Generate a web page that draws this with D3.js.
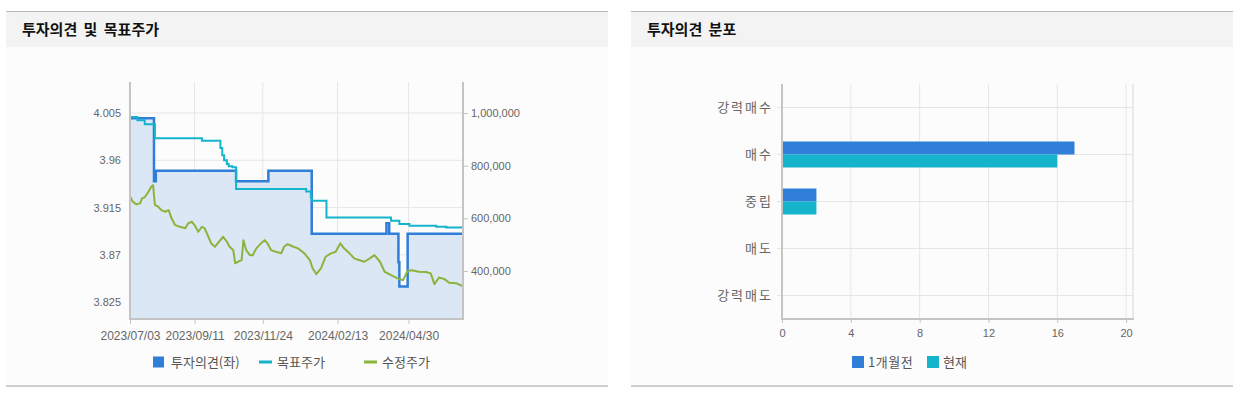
<!DOCTYPE html>
<html>
<head>
<meta charset="utf-8">
<script src="https://cdn.jsdelivr.net/npm/d3@7"></script>
<style>
  body { margin: 0; background: #fff; }
  svg text { font-family: "Liberation Sans", Arial, sans-serif; fill: #666; }
  svg text.kr { font-family: "Noto Sans CJK KR", sans-serif; }
</style>
</head>
<body>
<svg id="page" width="1237" height="395"></svg>
<script>
//opinion score (left axis), step changes
var opinionDates = ["2023-07-03", "2023-07-29", "2023-07-31", "2023-10-26", "2023-11-30", "2024-01-16",
                    "2024-04-06", "2024-04-09", "2024-04-19", "2024-04-20", "2024-04-29", "2024-06-28"];
var opinionValues = [4.00, 3.94, 3.95, 3.94, 3.95, 3.89, 3.90, 3.89, 3.863, 3.84, 3.89, 3.89];

//target price (right axis)
var targetDates = ["2023-07-03", "2023-07-11", "2023-07-19", "2023-07-30", "2023-09-19", "2023-10-09",
                   "2023-10-11", "2023-10-13", "2023-10-16", "2023-10-18", "2023-10-22", "2023-10-26",
                   "2024-01-10", "2024-01-15", "2024-01-16", "2024-02-01", "2024-04-11", "2024-04-20",
                   "2024-05-01", "2024-05-30", "2024-06-10", "2024-06-28"];
var targetValues = [985000, 973000, 957000, 904000, 895000, 867000, 840000, 821000, 806000, 798000, 794000, 711000,
                    702000, 680000, 667000, 603000, 591000, 578000, 572000, 568000, 565000, 563000];

//adjusted price (right axis)
var priceDates = ["2023-07-03", "2023-07-06", "2023-07-10", "2023-07-14", "2023-07-16", "2023-07-19", "2023-07-23",
                  "2023-07-26", "2023-07-28", "2023-07-30", "2023-08-02", "2023-08-06", "2023-08-10", "2023-08-14",
                  "2023-08-17", "2023-08-21", "2023-08-26", "2023-09-01", "2023-09-04", "2023-09-08", "2023-09-11",
                  "2023-09-15", "2023-09-19", "2023-09-22", "2023-09-26", "2023-09-29", "2023-10-03", "2023-10-06",
                  "2023-10-12", "2023-10-16", "2023-10-19", "2023-10-23", "2023-10-25", "2023-10-28", "2023-11-01",
                  "2023-11-03", "2023-11-06", "2023-11-10", "2023-11-13", "2023-11-17", "2023-11-22", "2023-11-26",
                  "2023-11-29", "2023-12-03", "2023-12-08", "2023-12-14", "2023-12-17", "2023-12-21", "2023-12-26",
                  "2024-01-01", "2024-01-08", "2024-01-14", "2024-01-17", "2024-01-21", "2024-01-26", "2024-01-31",
                  "2024-02-06", "2024-02-11", "2024-02-16", "2024-02-20", "2024-02-26", "2024-03-02", "2024-03-08",
                  "2024-03-13", "2024-03-19", "2024-03-24", "2024-03-30", "2024-04-04", "2024-04-11", "2024-04-18",
                  "2024-04-24", "2024-04-29", "2024-05-04", "2024-05-11", "2024-05-19", "2024-05-24", "2024-05-28",
                  "2024-06-02", "2024-06-08", "2024-06-13", "2024-06-21", "2024-06-28"];
var priceValues = [684000, 663000, 653000, 657000, 676000, 680000, 701000, 720000, 726000, 650000, 646000, 631000,
                   625000, 631000, 600000, 574000, 568000, 562000, 581000, 587000, 574000, 549000, 568000, 562000,
                   530000, 505000, 492000, 505000, 530000, 511000, 492000, 479000, 429000, 435000, 441000, 517000,
                   479000, 460000, 460000, 486000, 505000, 517000, 505000, 479000, 473000, 467000, 492000, 502000,
                   494000, 486000, 467000, 441000, 410000, 388000, 410000, 454000, 467000, 473000, 505000, 486000,
                   467000, 448000, 441000, 435000, 448000, 460000, 435000, 397000, 384000, 372000, 365000, 401000,
                   403000, 397000, 396000, 391000, 350000, 375000, 369000, 355000, 353000, 342000];

var dateTicks = ["2023-07-03", "2023-09-11", "2023-11-24", "2024-02-13", "2024-04-30"];
var leftTicks = [3.825, 3.87, 3.915, 3.96, 4.005];
var rightTicks = [400000, 600000, 800000, 1000000];

//opinion distribution
var categories = ["강력매수", "매수", "중립", "매도", "강력매도"];
var prevMonth = [0, 17, 2, 0, 0];
var current = [0, 16, 2, 0, 0];
var countTicks = [0, 4, 8, 12, 16, 20];

var blue = "#2f7ed8", teal = "#14b4cc", green = "#8ab43c";
var gridColor = "#e6e6e6", axisColor = "#c4c4c4";

var parseDate = d3.timeParse("%Y-%m-%d");
var svg = d3.select("#page");

function drawPanel(x, title) {
    var p = svg.append("g").attr("transform", "translate(" + x + ",0)");
    var w = 602;
    p.append("rect").attr("x", 0).attr("y", 11).attr("width", w).attr("height", 375).attr("fill", "#fcfcfc");
    p.append("rect").attr("x", 0).attr("y", 12).attr("width", w).attr("height", 35).attr("fill", "#f3f3f3");
    p.append("line").attr("x1", 0).attr("x2", w).attr("y1", 11.5).attr("y2", 11.5)
        .attr("stroke", "#b8b8b8").attr("stroke-width", 1);
    p.append("line").attr("x1", 0).attr("x2", w).attr("y1", 386).attr("y2", 386)
        .attr("stroke", "#cfcfcf").attr("stroke-width", 2);
    p.append("text").attr("class", "kr").attr("x", 16).attr("y", 35)
        .style("font-size", "15px").style("font-weight", "bold").style("fill", "#111")
        .style("word-spacing", "3px")
        .text(title);
}

function styleAxis(g) {
    g.select(".domain").remove();
    g.selectAll(".tick line").attr("stroke", axisColor);
}

function drawOpinionChart() {
    var margin = { top: 82, left: 130 };
    var width = 333, height = 237;
    var g = svg.append("g").attr("transform", "translate(" + margin.left + "," + margin.top + ")");

    var x = d3.scaleTime()
        .domain([parseDate("2023-07-03"), parseDate("2024-06-28")])
        .range([0, width]);
    var yLeft = d3.scaleLinear().domain([3.809, 4.0345]).range([height, 0]);
    var yRight = d3.scaleLinear().domain([217500, 1118000]).range([height, 0]);

    var opinion = opinionDates.map(function(d, i) { return { date: parseDate(d), value: opinionValues[i] }; });
    var target = targetDates.map(function(d, i) { return { date: parseDate(d), value: targetValues[i] }; });
    var price = priceDates.map(function(d, i) { return { date: parseDate(d), value: priceValues[i] }; });

    // grid
    g.append("g").selectAll("line").data(leftTicks).enter().append("line")
        .attr("x1", 0).attr("x2", width)
        .attr("y1", function(d) { return yLeft(d); }).attr("y2", function(d) { return yLeft(d); })
        .attr("stroke", gridColor);
    g.append("g").selectAll("line").data(dateTicks.slice(1)).enter().append("line")
        .attr("x1", function(d) { return x(parseDate(d)); }).attr("x2", function(d) { return x(parseDate(d)); })
        .attr("y1", 0).attr("y2", height)
        .attr("stroke", gridColor);

    var area = d3.area()
        .curve(d3.curveStepAfter)
        .x(function(d) { return x(d.date); })
        .y0(height)
        .y1(function(d) { return yLeft(d.value); });
    g.append("path").attr("d", area(opinion)).attr("fill", "#dce7f6");

    var opinionLine = d3.line().curve(d3.curveStepAfter)
        .x(function(d) { return x(d.date); })
        .y(function(d) { return yLeft(d.value); });
    var targetLine = d3.line().curve(d3.curveStepAfter)
        .x(function(d) { return x(d.date); })
        .y(function(d) { return yRight(d.value); });
    var priceLine = d3.line()
        .x(function(d) { return x(d.date); })
        .y(function(d) { return yRight(d.value); });

    g.append("path").attr("d", opinionLine(opinion)).attr("fill", "none")
        .attr("stroke", blue).attr("stroke-width", 2.5);
    g.append("path").attr("d", targetLine(target)).attr("fill", "none")
        .attr("stroke", teal).attr("stroke-width", 2);
    g.append("path").attr("d", priceLine(price)).attr("fill", "none")
        .attr("stroke", green).attr("stroke-width", 2).attr("stroke-linejoin", "round");

    // axes
    g.append("g")
        .call(d3.axisLeft(yLeft).tickValues(leftTicks).tickSize(0).tickPadding(9).tickFormat(d3.format("")))
        .call(styleAxis)
        .selectAll("text").style("font-size", "11px").style("font-family", null);
    g.append("g").attr("transform", "translate(" + width + ",0)")
        .call(d3.axisRight(yRight).tickValues(rightTicks).tickSize(5).tickPadding(3).tickFormat(d3.format(",")))
        .call(styleAxis)
        .selectAll("text").style("font-size", "11px").style("font-family", null);
    g.append("g").attr("transform", "translate(0," + height + ")")
        .call(d3.axisBottom(x).tickValues(dateTicks.map(parseDate)).tickSize(5).tickPadding(7)
            .tickFormat(d3.timeFormat("%Y/%m/%d")))
        .call(styleAxis)
        .selectAll("text").style("font-size", "12px").style("font-family", null);

    g.append("line").attr("x1", 0).attr("x2", 0).attr("y1", 0).attr("y2", height)
        .attr("stroke", axisColor).attr("stroke-width", 2);
    g.append("line").attr("x1", width).attr("x2", width).attr("y1", 0).attr("y2", height)
        .attr("stroke", axisColor).attr("stroke-width", 2);
    g.append("line").attr("x1", -1).attr("x2", width + 1).attr("y1", height).attr("y2", height)
        .attr("stroke", axisColor).attr("stroke-width", 2);

    // legend
    var lg = svg.append("g");
    lg.append("rect").attr("x", 153).attr("y", 356.5).attr("width", 11).attr("height", 11).attr("fill", blue);
    lg.append("text").attr("class", "kr").attr("x", 171).attr("y", 366.5).style("font-size", "13px").style("fill", "#555")
        .text("투자의견(좌)");
    lg.append("line").attr("x1", 259).attr("x2", 272).attr("y1", 362).attr("y2", 362)
        .attr("stroke", teal).attr("stroke-width", 3);
    lg.append("text").attr("class", "kr").attr("x", 277).attr("y", 366.5).style("font-size", "13px").style("fill", "#555")
        .text("목표주가");
    lg.append("line").attr("x1", 364).attr("x2", 377).attr("y1", 362).attr("y2", 362)
        .attr("stroke", green).attr("stroke-width", 3);
    lg.append("text").attr("class", "kr").attr("x", 382).attr("y", 366.5).style("font-size", "13px").style("fill", "#555")
        .text("수정주가");
}

function drawDistChart() {
    var margin = { top: 84, left: 782 };
    var width = 351, height = 235;
    var g = svg.append("g").attr("transform", "translate(" + margin.left + "," + margin.top + ")");

    var x = d3.scaleLinear().domain([0, 20.4]).range([0, width]);
    var y = d3.scaleBand().domain(categories).range([0, height]);
    var barH = 13;

    // grid
    g.append("g").selectAll("line").data(countTicks.slice(1)).enter().append("line")
        .attr("x1", function(d) { return x(d); }).attr("x2", function(d) { return x(d); })
        .attr("y1", 0).attr("y2", height).attr("stroke", gridColor);
    g.append("line").attr("x1", width).attr("x2", width).attr("y1", 0).attr("y2", height)
        .attr("stroke", "#d8d8d8");
    g.append("g").selectAll("line").data(categories).enter().append("line")
        .attr("x1", -5).attr("x2", width)
        .attr("y1", function(d) { return y(d) + y.bandwidth() / 2; })
        .attr("y2", function(d) { return y(d) + y.bandwidth() / 2; })
        .attr("stroke", gridColor);

    // bars
    g.append("g").selectAll("rect").data(categories).enter().append("rect")
        .attr("x", 0)
        .attr("y", function(d) { return y(d) + y.bandwidth() / 2 - barH; })
        .attr("width", function(d, i) { return x(prevMonth[i]); })
        .attr("height", barH).attr("fill", blue);
    g.append("g").selectAll("rect").data(categories).enter().append("rect")
        .attr("x", 0)
        .attr("y", function(d) { return y(d) + y.bandwidth() / 2; })
        .attr("width", function(d, i) { return x(current[i]); })
        .attr("height", barH).attr("fill", teal);

    // axes
    g.append("g").attr("transform", "translate(0," + height + ")")
        .call(d3.axisBottom(x).tickValues(countTicks).tickSize(4).tickPadding(6).tickFormat(d3.format("d")))
        .call(styleAxis)
        .selectAll("text").style("font-size", "11px").style("font-family", null);
    g.append("g")
        .call(d3.axisLeft(y).tickSize(0).tickPadding(9))
        .call(styleAxis)
        .selectAll("text").attr("class", "kr").style("font-size", "13px").style("fill", "#666")
        .style("letter-spacing", "2px");

    g.append("line").attr("x1", 0).attr("x2", 0).attr("y1", 0).attr("y2", height)
        .attr("stroke", axisColor).attr("stroke-width", 2);
    g.append("line").attr("x1", -1).attr("x2", width + 1).attr("y1", height).attr("y2", height)
        .attr("stroke", axisColor).attr("stroke-width", 2);

    // legend
    var lg = svg.append("g");
    lg.append("rect").attr("x", 852).attr("y", 356).attr("width", 12).attr("height", 12).attr("fill", blue);
    lg.append("text").attr("class", "kr").attr("x", 868).attr("y", 366.5).style("font-size", "13px").style("fill", "#555")
        .style("letter-spacing", "0.5px")
        .text("1개월전");
    lg.append("rect").attr("x", 927).attr("y", 356).attr("width", 12).attr("height", 12).attr("fill", teal);
    lg.append("text").attr("class", "kr").attr("x", 943).attr("y", 366.5).style("font-size", "13px").style("fill", "#555")
        .text("현재");
}

drawPanel(6, "투자의견 및 목표주가");
drawPanel(631, "투자의견 분포");
drawOpinionChart();
drawDistChart();
</script>
</body>
</html>
